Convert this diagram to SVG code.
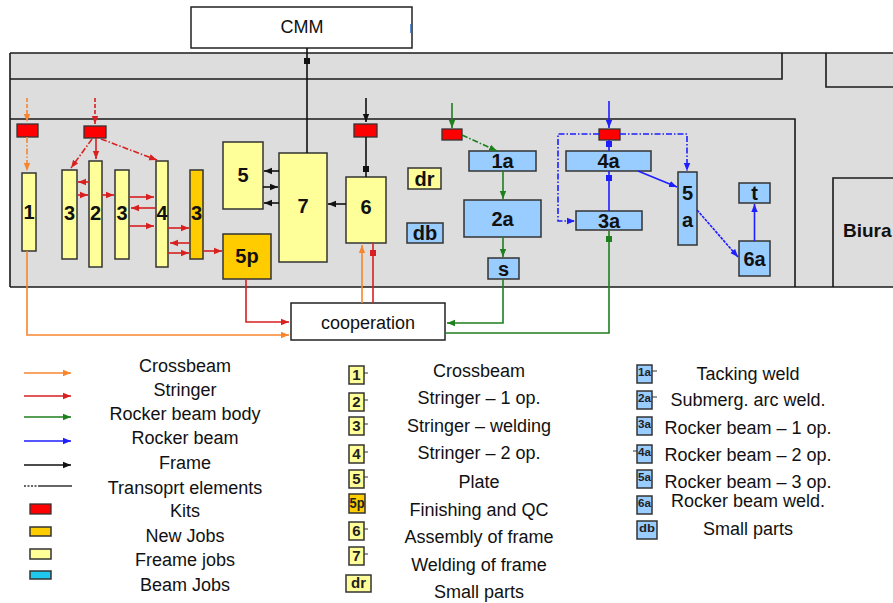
<svg xmlns="http://www.w3.org/2000/svg" width="893" height="603" viewBox="0 0 893 603">
<style>
.bg{fill:#DDDDDD;stroke:none}
.wall{fill:none;stroke:#1a1a1a;stroke-width:1.6}
.ny{fill:#FFFF99;stroke:#333;stroke-width:1.5}
.no{fill:#FFCC00;stroke:#333;stroke-width:1.5}
.nb{fill:#99CCFF;stroke:#333;stroke-width:1.5}
.nc{fill:#1EC8EE;stroke:#333;stroke-width:1.5}
.kit{fill:#FF0000;stroke:#333;stroke-width:1.3}
.box{fill:#FFFFFF;stroke:#222;stroke-width:1.5}
.lb{font-family:"Liberation Sans",Arial,sans-serif;font-weight:bold;font-size:20px;fill:#111;text-anchor:middle;dominant-baseline:central}
.tx{font-family:"Liberation Sans",Arial,sans-serif;font-size:18px;fill:#111;text-anchor:middle}
.ic{font-family:"Liberation Sans",Arial,sans-serif;font-weight:bold;font-size:15px;fill:#222;text-anchor:middle}
.ico{font-family:"Liberation Sans",Arial,sans-serif;font-weight:bold;font-size:11px;fill:#222;text-anchor:middle}
.or{fill:none;stroke:#F7862F;stroke-width:1.6}
.rd{fill:none;stroke:#D82020;stroke-width:1.6}
.gr{fill:none;stroke:#1F7F1F;stroke-width:1.6}
.bl{fill:none;stroke:#1E1EFF;stroke-width:1.6}
.bk{fill:none;stroke:#111;stroke-width:1.6}
.dd{stroke-dasharray:6 2 1.5 2}
.da{stroke-dasharray:4 2}
.stub{stroke:#333;stroke-width:1}
</style>
<defs>
<marker id="aor" viewBox="0 0 10 10" refX="10" refY="5" markerWidth="8" markerHeight="8" markerUnits="userSpaceOnUse" orient="auto"><path d="M0,1 L10,5 L0,9 z" fill="#F7862F"/></marker>
<marker id="ard" viewBox="0 0 10 10" refX="10" refY="5" markerWidth="8" markerHeight="8" markerUnits="userSpaceOnUse" orient="auto"><path d="M0,1 L10,5 L0,9 z" fill="#D82020"/></marker>
<marker id="agr" viewBox="0 0 10 10" refX="10" refY="5" markerWidth="8" markerHeight="8" markerUnits="userSpaceOnUse" orient="auto"><path d="M0,1 L10,5 L0,9 z" fill="#1F7F1F"/></marker>
<marker id="abl" viewBox="0 0 10 10" refX="10" refY="5" markerWidth="8" markerHeight="8" markerUnits="userSpaceOnUse" orient="auto"><path d="M0,1 L10,5 L0,9 z" fill="#1E1EFF"/></marker>
<marker id="abk" viewBox="0 0 10 10" refX="10" refY="5" markerWidth="8" markerHeight="8" markerUnits="userSpaceOnUse" orient="auto"><path d="M0,1 L10,5 L0,9 z" fill="#111"/></marker>
</defs>

<!-- building plan -->
<g id="building">
<rect class="bg" x="10" y="53" width="883" height="234"/>
<path class="wall" d="M10,53 H893"/>
<path class="wall" d="M10,53 V287" stroke-width="2.5"/>
<path class="wall" d="M10,287 H893" stroke-width="2.5"/>
<path class="wall" d="M10,79 H782 V53"/>
<path class="wall" d="M826,53 V87 H893"/>
<path class="wall" d="M10,119 H795 V287"/>
<path class="wall" d="M833,287 V178 H893"/>
<text x="843" y="237" font-family="Liberation Sans,Arial,sans-serif" font-weight="bold" font-size="19" fill="#111">Biura</text>
</g>

<g id="cmm">
<rect class="box" x="191" y="7" width="221" height="41"/>
<text class="tx" x="302" y="33">CMM</text>
<path d="M411,24 V33" stroke="#1E6FD0" stroke-width="1.5"/>
</g>

<g id="cooperation">
<rect class="box" x="291" y="303" width="154" height="37"/>
<text class="tx" x="368" y="329">cooperation</text>
</g>

<!-- kits -->
<g id="kit-crossbeam"><rect class="kit" x="17" y="124" width="21" height="13"/></g>
<g id="kit-stringer"><rect class="kit" x="84" y="126" width="22" height="12"/></g>
<g id="kit-frame"><rect class="kit" x="354" y="124" width="23" height="13"/></g>
<g id="kit-body"><rect class="kit" x="442" y="129" width="20" height="11"/></g>
<g id="kit-rocker"><rect class="kit" x="599" y="129" width="21" height="11"/></g>

<!-- frame jobs -->
<g id="n1"><rect class="ny" x="22" y="173" width="14" height="78"/><text class="lb" x="29" y="212" font-size="21">1</text></g>
<g id="n3a"><rect class="ny" x="62" y="170" width="15" height="89"/><text class="lb" x="69.5" y="213" font-size="21">3</text></g>
<g id="n2"><rect class="ny" x="89" y="161" width="13" height="106"/><text class="lb" x="95.5" y="213" font-size="21">2</text></g>
<g id="n3b"><rect class="ny" x="115" y="170" width="14" height="89"/><text class="lb" x="122" y="213" font-size="21">3</text></g>
<g id="n4"><rect class="ny" x="156" y="161" width="12" height="106"/><text class="lb" x="162" y="213" font-size="21">4</text></g>
<g id="n3c"><rect class="no" x="190" y="170" width="13" height="89"/><text class="lb" x="196.5" y="213" font-size="21">3</text></g>
<g id="n5"><rect class="ny" x="223" y="142" width="40" height="67"/><text class="lb" x="243" y="175">5</text></g>
<g id="n5p"><rect class="no" x="223" y="234" width="48" height="45"/><text class="lb" x="247" y="256">5p</text></g>
<g id="n7"><rect class="ny" x="279" y="153" width="48" height="109"/><text class="lb" x="303" y="206" font-size="22">7</text></g>
<g id="n6"><rect class="ny" x="346" y="177" width="40" height="66"/><text class="lb" x="366" y="207" font-size="22">6</text></g>
<g id="ndr"><rect class="ny" x="408" y="168" width="33" height="21"/><text class="lb" x="424.5" y="178.5">dr</text></g>
<g id="ndb"><rect class="nb" x="407" y="223" width="36" height="20"/><text class="lb" x="425" y="233">db</text></g>

<!-- beam jobs -->
<g id="n1a"><rect class="nb" x="469" y="151" width="67" height="20"/><text class="lb" x="502.5" y="161">1a</text></g>
<g id="n2a"><rect class="nb" x="464" y="200" width="77" height="37"/><text class="lb" x="502.5" y="218.5">2a</text></g>
<g id="ns"><rect class="nb" x="488" y="258" width="31" height="21"/><text class="lb" x="503.5" y="268.5">s</text></g>
<g id="n4a"><rect class="nb" x="566" y="151" width="85" height="20"/><text class="lb" x="608.5" y="161">4a</text></g>
<g id="n3a2"><rect class="nb" x="576" y="211" width="66" height="19"/><text class="lb" x="609" y="220.5">3a</text></g>
<g id="n5a"><rect class="nb" x="678" y="172" width="19" height="73"/><text class="lb" x="687.5" y="193">5</text><text class="lb" x="687.5" y="220">a</text></g>
<g id="n6a"><rect class="nb" x="739" y="241" width="31" height="35"/><text class="lb" x="754.5" y="258.5">6a</text></g>
<g id="nt"><rect class="nb" x="739" y="183" width="31" height="20"/><text class="lb" x="754.5" y="193">t</text></g>

<!-- connectors -->
<g id="connectors">
<path class="or da" d="M27,98 V122" marker-end="url(#aor)"/>
<path class="or dd" d="M27,137 V171" marker-end="url(#aor)"/>
<path class="or" d="M27,251 V335 H289" marker-end="url(#aor)"/>
<path class="or" d="M362,303 V245" marker-end="url(#aor)"/>
<path class="rd da" d="M95,98 V124" marker-end="url(#ard)"/>
<path class="rd" d="M96,138 V159" marker-end="url(#ard)"/>
<path class="rd dd" d="M92,139 L71,168" marker-end="url(#ard)"/>
<path class="rd dd" d="M101,139 L157,160" marker-end="url(#ard)"/>
<path class="rd" d="M89,182 H78" marker-end="url(#ard)"/>
<path class="rd" d="M77,195 H88" marker-end="url(#ard)"/>
<path class="rd" d="M102,195 H114" marker-end="url(#ard)"/>
<path class="rd" d="M129,197 H154" marker-end="url(#ard)"/>
<path class="rd" d="M156,208 H131" marker-end="url(#ard)"/>
<path class="rd" d="M129,226 H154" marker-end="url(#ard)"/>
<path class="rd" d="M168,228 H189" marker-end="url(#ard)"/>
<path class="rd" d="M190,243 H170" marker-end="url(#ard)"/>
<path class="rd" d="M168,253 H189" marker-end="url(#ard)"/>
<path class="rd" d="M203,251 H222" marker-end="url(#ard)"/>
<path class="rd" d="M246,279 V322 H289" marker-end="url(#ard)"/>
<path class="rd" d="M373,303 V243"/>
<rect x="370" y="250" width="6" height="6" fill="#D82020"/>
<path class="bk" d="M307,48 V153"/>
<rect x="304" y="58" width="6" height="6" fill="#111"/>
<path class="bk" d="M366,98 V122" marker-end="url(#abk)"/>
<path class="bk" d="M366,137 V177"/>
<rect x="363" y="166" width="6" height="6" fill="#111"/>
<path class="bk" d="M279,171 H264" marker-end="url(#abk)"/>
<path class="bk" d="M263,187 H278" marker-end="url(#abk)"/>
<path class="bk" d="M279,203 H264" marker-end="url(#abk)"/>
<path class="bk" d="M346,204 H328" marker-end="url(#abk)"/>
<path class="gr" d="M452,103 V128" marker-end="url(#agr)"/>
<path class="gr dd" d="M462,135 L497,151" marker-end="url(#agr)"/>
<path class="gr" d="M503,171 V199" marker-end="url(#agr)"/>
<path class="gr" d="M503,237 V257" marker-end="url(#agr)"/>
<path class="gr" d="M503,279 V323 H447" marker-end="url(#agr)"/>
<path class="gr" d="M445,333 H609 V231"/>
<rect x="606" y="236" width="6" height="6" fill="#1F7F1F"/>
<path class="bl" d="M609,101 V128" marker-end="url(#abl)"/>
<path class="bl" d="M609,140 V151"/>
<rect x="606" y="141" width="6" height="6" fill="#1E1EFF"/>
<path class="bl" d="M609,211 V171"/>
<rect x="606" y="175" width="6" height="6" fill="#1E1EFF"/>
<path class="bl dd" d="M599,134 H558 V221 H575" marker-end="url(#abl)"/>
<path class="bl dd" d="M620,134 H687 V171" marker-end="url(#abl)"/>
<path class="bl" d="M638,171 L677,187" marker-end="url(#abl)"/>
<path class="bl" d="M697,210 L738,257" stroke-dasharray="3 1" marker-end="url(#abl)"/>
<path class="bl" d="M754.5,241 V204" marker-end="url(#abl)"/>
</g>

<g id="legend-flows">
<path class="or" d="M24,373 H71" marker-end="url(#aor)"/>
<path class="rd" d="M24,396 H71" marker-end="url(#ard)"/>
<path class="gr" d="M24,417 H71" marker-end="url(#agr)"/>
<path class="bl" d="M24,441 H71" marker-end="url(#abl)"/>
<path class="bk" d="M24,465 H71" marker-end="url(#abk)"/>
<path d="M24,486 H38" stroke="#333" stroke-width="1.3" stroke-dasharray="2 1.5"/>
<path d="M38,486 H72" stroke="#333" stroke-width="1.6"/>
<rect class="kit" x="30" y="504" width="21" height="10"/>
<rect class="no" x="30" y="527" width="21" height="9"/>
<rect class="ny" x="30" y="549" width="21" height="10"/>
<rect class="nc" x="30" y="571" width="21" height="8"/>
<text class="tx" x="185" y="372">Crossbeam</text>
<text class="tx" x="185" y="396">Stringer</text>
<text class="tx" x="185" y="420">Rocker beam body</text>
<text class="tx" x="185" y="444">Rocker beam</text>
<text class="tx" x="185" y="469">Frame</text>
<text class="tx" x="185" y="494">Transoprt elements</text>
<text class="tx" x="185" y="517">Kits</text>
<text class="tx" x="185" y="542">New Jobs</text>
<text class="tx" x="185" y="566">Freame jobs</text>
<text class="tx" x="185" y="591">Beam Jobs</text>
</g>

<g id="legend-frame">
<rect class="ny" x="349" y="366" width="15" height="18"/><text class="ic" x="356.5" y="380">1</text><path class="stub" d="M364,373 H368"/>
<rect class="ny" x="349" y="393" width="15" height="18"/><text class="ic" x="356.5" y="407">2</text><path class="stub" d="M364,400 H368"/>
<rect class="ny" x="349" y="417" width="15" height="18"/><text class="ic" x="356.5" y="431">3</text><path class="stub" d="M364,424 H368"/>
<rect class="ny" x="349" y="445" width="15" height="18"/><text class="ic" x="356.5" y="459">4</text><path class="stub" d="M364,452 H368"/>
<rect class="ny" x="349" y="470" width="15" height="18"/><text class="ic" x="356.5" y="484">5</text><path class="stub" d="M364,477 H368"/>
<rect class="no" x="349" y="494" width="16" height="19"/><text class="ic" x="357" y="508" textLength="15" lengthAdjust="spacingAndGlyphs">5p</text>
<rect class="ny" x="349" y="522" width="15" height="18"/><text class="ic" x="356.5" y="536">6</text><path class="stub" d="M364,529 H368"/>
<rect class="ny" x="349" y="547" width="15" height="18"/><text class="ic" x="356.5" y="561">7</text><path class="stub" d="M364,554 H368"/>
<rect class="ny" x="346" y="575" width="25" height="17"/><text class="ic" x="358.5" y="588">dr</text>
<text class="tx" x="479" y="377">Crossbeam</text>
<text class="tx" x="479" y="404">Stringer – 1 op.</text>
<text class="tx" x="479" y="432">Stringer – welding</text>
<text class="tx" x="479" y="459">Stringer – 2 op.</text>
<text class="tx" x="479" y="488">Plate</text>
<text class="tx" x="479" y="516">Finishing and QC</text>
<text class="tx" x="479" y="543">Assembly of frame</text>
<text class="tx" x="479" y="571">Welding of frame</text>
<text class="tx" x="479" y="598">Small parts</text>
</g>

<g id="legend-beam">
<rect class="nb" x="637" y="365" width="15" height="18"/><text class="ico" x="644.5" y="376" textLength="13" lengthAdjust="spacingAndGlyphs">1a</text><path class="stub" d="M652,371 H657"/>
<rect class="nb" x="637" y="391" width="15" height="18"/><text class="ico" x="644.5" y="402" textLength="13" lengthAdjust="spacingAndGlyphs">2a</text><path class="stub" d="M652,397 H657"/>
<rect class="nb" x="637" y="417" width="15" height="18"/><text class="ico" x="644.5" y="428" textLength="13" lengthAdjust="spacingAndGlyphs">3a</text>
<rect class="nb" x="637" y="445" width="15" height="18"/><text class="ico" x="644.5" y="456" textLength="13" lengthAdjust="spacingAndGlyphs">4a</text><path class="stub" d="M633,451 H637"/>
<rect class="nb" x="637" y="470" width="15" height="18"/><text class="ico" x="644.5" y="481" textLength="13" lengthAdjust="spacingAndGlyphs">5a</text>
<rect class="nb" x="637" y="496" width="15" height="18"/><text class="ico" x="644.5" y="507" textLength="13" lengthAdjust="spacingAndGlyphs">6a</text>
<rect class="nb" x="637" y="521" width="20" height="18"/><text class="ico" x="647" y="532" textLength="16" lengthAdjust="spacingAndGlyphs">db</text>
<text class="tx" x="748" y="380">Tacking weld</text>
<text class="tx" x="748" y="406">Submerg. arc weld.</text>
<text class="tx" x="748" y="434">Rocker beam – 1 op.</text>
<text class="tx" x="748" y="461">Rocker beam – 2 op.</text>
<text class="tx" x="748" y="488">Rocker beam – 3 op.</text>
<text class="tx" x="748" y="507">Rocker beam weld.</text>
<text class="tx" x="748" y="535">Small parts</text>
</g>
</svg>
